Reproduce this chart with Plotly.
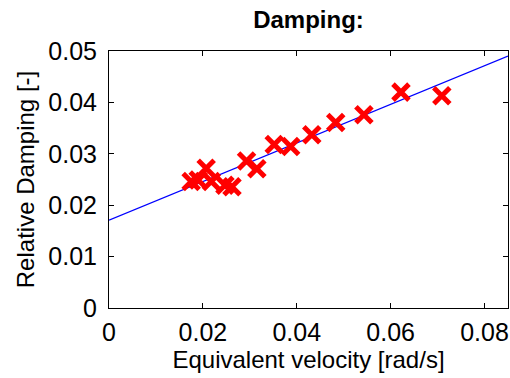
import plotly.graph_objects as go

# measured points
vel = [0.0175, 0.0190, 0.0207, 0.0218, 0.0247, 0.0262, 0.0293, 0.0315, 0.0352,
       0.0387, 0.0432, 0.0483, 0.0543, 0.0622, 0.0709]
damp = [0.0246, 0.0249, 0.0272, 0.0246, 0.0239, 0.0236, 0.0286, 0.0271, 0.0318,
        0.0314, 0.0337, 0.0361, 0.0376, 0.0420, 0.0413]

# linear fit line endpoints
fit_x = [0.0, 0.085]
fit_y = [0.0171, 0.0490]

x_ticks = [0, 0.02, 0.04, 0.06, 0.08]
x_labels = ["0", "0.02", "0.04", "0.06", "0.08"]
y_ticks = [0, 0.01, 0.02, 0.03, 0.04, 0.05]
y_labels = ["0", "0.01", "0.02", "0.03", "0.04", "0.05"]

font = "Liberation Sans, Arial, sans-serif"

fig = go.Figure()
fig.add_trace(go.Scatter(x=fit_x, y=fit_y, mode="lines",
                         line=dict(color="#0000ff", width=1.3),
                         showlegend=False, hoverinfo="skip"))
fig.add_trace(go.Scatter(x=vel, y=damp, mode="markers",
                         marker=dict(symbol="x-thin-open", size=16, color="#ff0000",
                                     line=dict(color="#ff0000", width=5)),
                         showlegend=False))

axis_common = dict(showline=True, linecolor="black", linewidth=1, mirror="ticks",
                   ticks="inside", ticklen=5, tickcolor="black", showgrid=False,
                   zeroline=False, tickfont=dict(family=font, size=25, color="black"))

fig.update_layout(
    width=510, height=378,
    margin=dict(l=109, r=2, t=51, b=70),
    plot_bgcolor="white", paper_bgcolor="white",
    title=dict(text="<b>Damping:</b>", x=0.5, xref="paper", xanchor="center",
               y=1 - 20 / 378, yanchor="middle",
               font=dict(family=font, size=24, color="black")),
    xaxis=dict(range=[0, 0.085], tickvals=x_ticks, ticktext=x_labels,
               ticklabelstandoff=2,
               title=dict(text="Equivalent velocity [rad/s]", standoff=2,
                          font=dict(family=font, size=24, color="black")),
               **axis_common),
    yaxis=dict(range=[0, 0.05], tickvals=y_ticks, ticktext=y_labels,
               ticklabelstandoff=6,
               title=dict(text="Relative Damping [-]", standoff=6,
                          font=dict(family=font, size=24, color="black")),
               **axis_common),
)

fig.write_html("out.html")
